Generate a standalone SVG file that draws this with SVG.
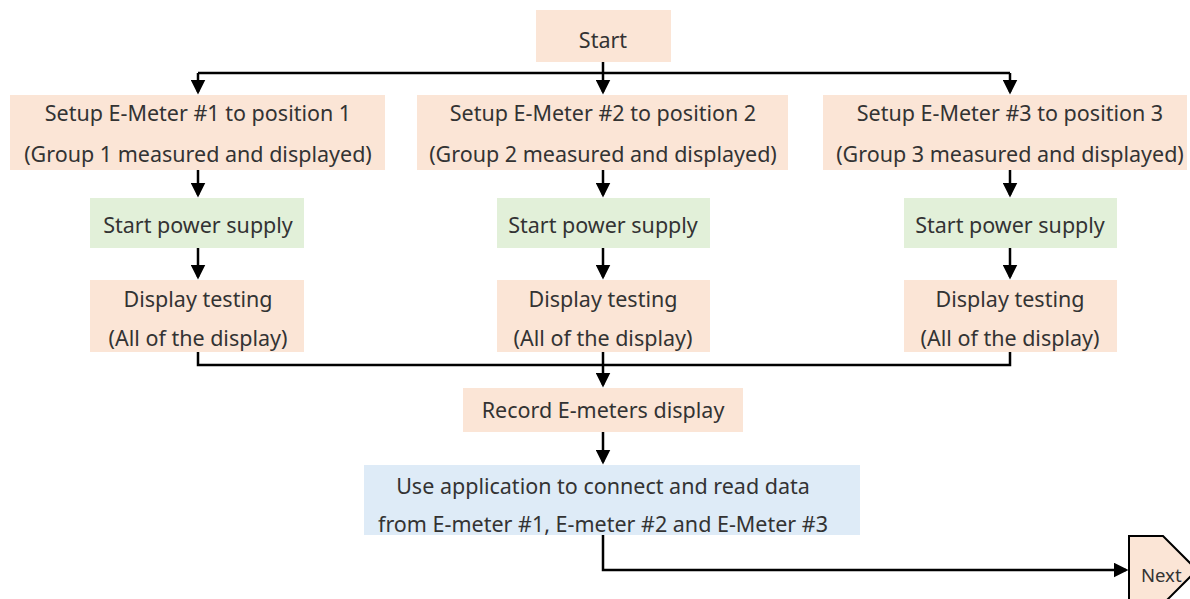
<svg xmlns="http://www.w3.org/2000/svg" width="1190" height="599" viewBox="0 0 1190 599">
<style>
.peach{fill:#fbe5d6}
.green{fill:#e2f0d9}
.blue{fill:#deebf7}
text{font-family:"Noto Sans","Liberation Sans",sans-serif;font-size:21.5px;fill:#333;text-anchor:middle}
.ln{fill:none;stroke:#000;stroke-width:2.5}
</style>
<defs>
<marker id="ah" markerWidth="6" markerHeight="6" refX="5" refY="3" orient="auto" markerUnits="strokeWidth">
<path d="M0,0 L6,3 L0,6 z" fill="#000"/>
</marker>
</defs>
<rect width="1190" height="599" fill="#fff"/>
<g id="connectors">
<path class="ln" d="M603,62 V92" marker-end="url(#ah)"/>
<path class="ln" d="M198,73 H1010"/>
<path class="ln" d="M198,73 V92" marker-end="url(#ah)"/>
<path class="ln" d="M1010,73 V92" marker-end="url(#ah)"/>
<path class="ln" d="M198,170 V195" marker-end="url(#ah)"/>
<path class="ln" d="M603,170 V195" marker-end="url(#ah)"/>
<path class="ln" d="M1010,170 V195" marker-end="url(#ah)"/>
<path class="ln" d="M198,248 V277" marker-end="url(#ah)"/>
<path class="ln" d="M603,248 V277" marker-end="url(#ah)"/>
<path class="ln" d="M1010,248 V277" marker-end="url(#ah)"/>
<path class="ln" d="M198,352 V365 H1010 V352"/>
<path class="ln" d="M603,352 V385" marker-end="url(#ah)"/>
<path class="ln" d="M603,432 V462" marker-end="url(#ah)"/>
<path class="ln" d="M603,535 V570 H1126" marker-end="url(#ah)"/>
</g>
<g id="start"><rect class="peach" x="536" y="10" width="135" height="52"/><text x="603" y="48">Start</text></g>
<g id="setup1"><rect class="peach" x="10" y="95" width="375" height="75"/><text x="198" y="121">Setup E-Meter #1 to position 1</text><text x="198" y="162">(Group 1 measured and displayed)</text></g>
<g id="setup2"><rect class="peach" x="417" y="95" width="371" height="75"/><text x="603" y="121">Setup E-Meter #2 to position 2</text><text x="603" y="162">(Group 2 measured and displayed)</text></g>
<g id="setup3"><rect class="peach" x="823" y="95" width="364" height="75"/><text x="1010" y="121">Setup E-Meter #3 to position 3</text><text x="1010" y="162">(Group 3 measured and displayed)</text></g>
<g id="power1"><rect class="green" x="90" y="198" width="214" height="50"/><text x="198" y="233">Start power supply</text></g>
<g id="power2"><rect class="green" x="497" y="198" width="213" height="50"/><text x="603" y="233">Start power supply</text></g>
<g id="power3"><rect class="green" x="904" y="198" width="213" height="50"/><text x="1010" y="233">Start power supply</text></g>
<g id="display1"><rect class="peach" x="90" y="280" width="214" height="72"/><text x="198" y="307">Display testing</text><text x="198" y="346">(All of the display)</text></g>
<g id="display2"><rect class="peach" x="497" y="280" width="213" height="72"/><text x="603" y="307">Display testing</text><text x="603" y="346">(All of the display)</text></g>
<g id="display3"><rect class="peach" x="904" y="280" width="213" height="72"/><text x="1010" y="307">Display testing</text><text x="1010" y="346">(All of the display)</text></g>
<g id="record"><rect class="peach" x="463" y="388" width="280" height="44"/><text x="603" y="418">Record E-meters display</text></g>
<g id="app"><rect class="blue" x="364" y="465" width="496" height="70"/><text x="603" y="494">Use application to connect and read data</text><text x="603" y="532">from E-meter #1, E-meter #2 and E-Meter #3</text></g>
<g id="next"><polygon points="1129,536 1163,536 1197,570 1163,604 1129,604" class="peach" stroke="#000" stroke-width="2"/><text x="1141" y="582" style="text-anchor:start;font-size:18.5px">Next</text></g>
</svg>
